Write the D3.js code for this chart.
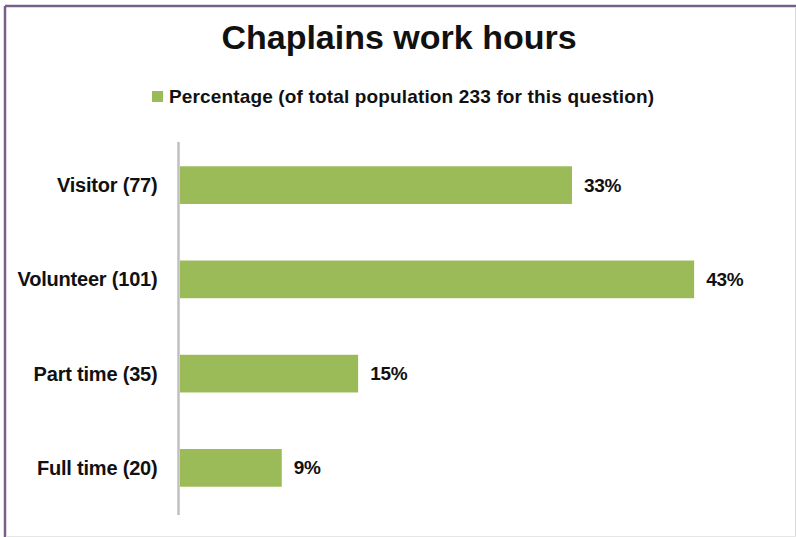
<!DOCTYPE html>
<html>
<head>
<meta charset="utf-8">
<script src="https://cdn.jsdelivr.net/npm/d3@7"></script>
<style>
html,body{margin:0;padding:0;background:#fff;}
svg{display:block;}
text{font-family:"Liberation Sans",Arial,Helvetica,sans-serif;font-weight:bold;fill:#111;}
</style>
</head>
<body>
<script>
const categories = ["Visitor (77)", "Volunteer (101)", "Part time (35)", "Full time (20)"];
const percentages = [33.05, 43.35, 15.02, 8.58];
const valueLabels = ["33%", "43%", "15%", "9%"];
const titleText = "Chaplains work hours";
const legendText = "Percentage (of total population 233 for this question)";

const W = 796, H = 537;
const svg = d3.select("body").append("svg").attr("width", W).attr("height", H);

// frame
svg.append("rect").attr("x", 0).attr("y", 0).attr("width", W).attr("height", H).attr("fill", "#fff");
svg.append("line").attr("x1", 5).attr("x2", 796).attr("y1", 6).attr("y2", 6).attr("stroke", "#76608a").attr("stroke-width", 2.5);
svg.append("line").attr("x1", 5).attr("x2", 5).attr("y1", 6).attr("y2", 537).attr("stroke", "#76608a").attr("stroke-width", 2.5);
svg.append("line").attr("x1", 795.5).attr("x2", 795.5).attr("y1", 7).attr("y2", 537).attr("stroke", "#d9d9d9").attr("stroke-width", 1);
svg.append("line").attr("x1", 6).attr("x2", 796).attr("y1", 536.5).attr("y2", 536.5).attr("stroke", "#e6e6e6").attr("stroke-width", 1);

const x = d3.scaleLinear().domain([0, 50]).range([180, 773]);
const y = d3.scaleBand().domain(categories).range([138, 515]).paddingInner(0.6).paddingOuter(0.3);

// title
svg.append("text").attr("x", 399).attr("y", 48.5).attr("text-anchor", "middle")
  .style("font-size", "34px").style("letter-spacing", "0px").text(titleText);

// legend
const lg = svg.append("g");
lg.append("rect").attr("x", 152).attr("y", 91).attr("width", 11).attr("height", 11).attr("fill", "#9bbb59");
lg.append("text").attr("x", 169).attr("y", 103).style("font-size", "19px").style("letter-spacing", "0.15px").text(legendText);

// bars
svg.selectAll("rect.bar").data(categories).enter().append("rect").attr("class", "bar")
  .attr("x", x(0)).attr("y", d => y(d))
  .attr("width", (d, i) => x(percentages[i]) - x(0))
  .attr("height", y.bandwidth()).attr("fill", "#9bbb59");

// value labels
svg.selectAll("text.val").data(categories).enter().append("text").attr("class", "val")
  .attr("x", (d, i) => x(percentages[i]) + 12)
  .attr("y", d => y(d) + y.bandwidth() / 2 + 6.5)
  .style("font-size", "19px").style("letter-spacing", "-0.3px")
  .text((d, i) => valueLabels[i]);

// axis
const axis = d3.axisLeft(y).tickSize(0).tickPadding(21);
const ag = svg.append("g").attr("transform", `translate(${x(0) - 1.5},0)`).call(axis);
ag.select(".domain").attr("stroke", "#bfbfbf").attr("stroke-width", 2.5).attr("d", "M0,142V515");
ag.selectAll(".tick text").style("font-size", "20px").style("letter-spacing", "-0.2px")
  .style("font-family", "'Liberation Sans',Arial,sans-serif").style("font-weight", "bold").attr("fill", "#111").attr("dy", "0.35em");
</script>
</body>
</html>
